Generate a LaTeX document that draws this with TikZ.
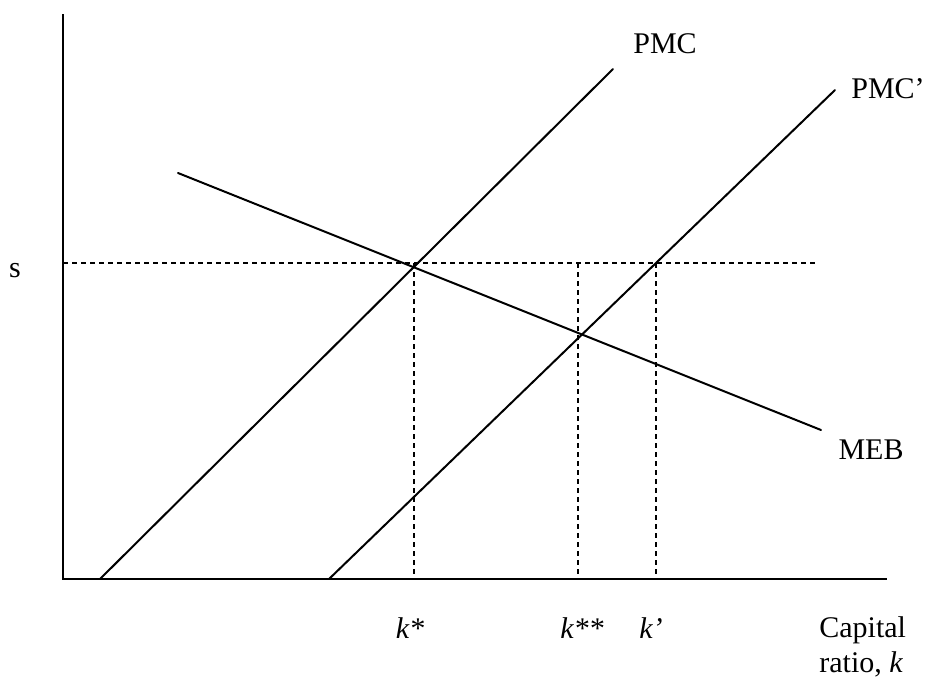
\documentclass[tikz,border=0pt]{standalone}
\usepackage{fontspec}
\setmainfont{Liberation Serif}
\usetikzlibrary{positioning}

\tikzset{
  curve/.style={line width=1pt, line cap=round},
  axis/.style={line width=1.1pt},
  guide/.style={line width=0.6pt, dash pattern=on 2.5pt off 2pt},
  lbl/.style={font=\fontsize{15}{17.5}\selectfont, inner sep=0pt},
}

\begin{document}
\begin{tikzpicture}[x=0.5pt, y=-0.5pt]
  \useasboundingbox (0,0) rectangle (925,677);

  % Axes
  \coordinate (origin) at (63,579);
  \coordinate (ytop)   at (63,14);
  \coordinate (xend)   at (887,579);
  \draw[axis] (ytop) -- (origin) -- (xend);

  % Curves
  \coordinate (pmc0)  at (100,579);
  \coordinate (pmc1)  at (613,69);
  \coordinate (pmcp0) at (329,579);
  \coordinate (pmcp1) at (835,90);
  \coordinate (meb0)  at (178,173);
  \coordinate (meb1)  at (821,430);
  \draw[curve] (pmc0) -- (pmc1);
  \draw[curve] (pmcp0) -- (pmcp1);
  \draw[curve] (meb0) -- (meb1);

  % Guide lines
  \coordinate (s0) at (63,263);
  \coordinate (s1) at (815,263);
  \draw[guide] (s0) -- (s1);
  \foreach \x/\n in {414/kstar, 578/kdstar, 656/kprime} {
    \coordinate (\n top) at (\x,263);
    \coordinate (\n bot) at (\x,579);
    \draw[guide] (\n top) -- (\n bot);
  }

  % Labels
  \node[lbl, anchor=base] (slbl)      at (15,277)  {s};
  \node[lbl, anchor=base] (pmclbl)    at (665,53)  {PMC};
  \node[lbl, anchor=base] (pmcplbl)   at (888,98)  {PMC’};
  \node[lbl, anchor=base] (meblbl)    at (871,459) {MEB};
  \node[lbl, anchor=base] (kstarlbl)  at (410,638) {\textit{k*}};
  \node[lbl, anchor=base] (kdstarlbl) at (582,638) {\textit{k**}};
  \node[lbl, anchor=base] (kprimelbl) at (651,638) {\textit{k’}};
  \node[lbl, anchor=north west, align=left] (xlbl) at (819,616)
    {Capital\\ratio, \textit{k}};

\end{tikzpicture}
\end{document}
